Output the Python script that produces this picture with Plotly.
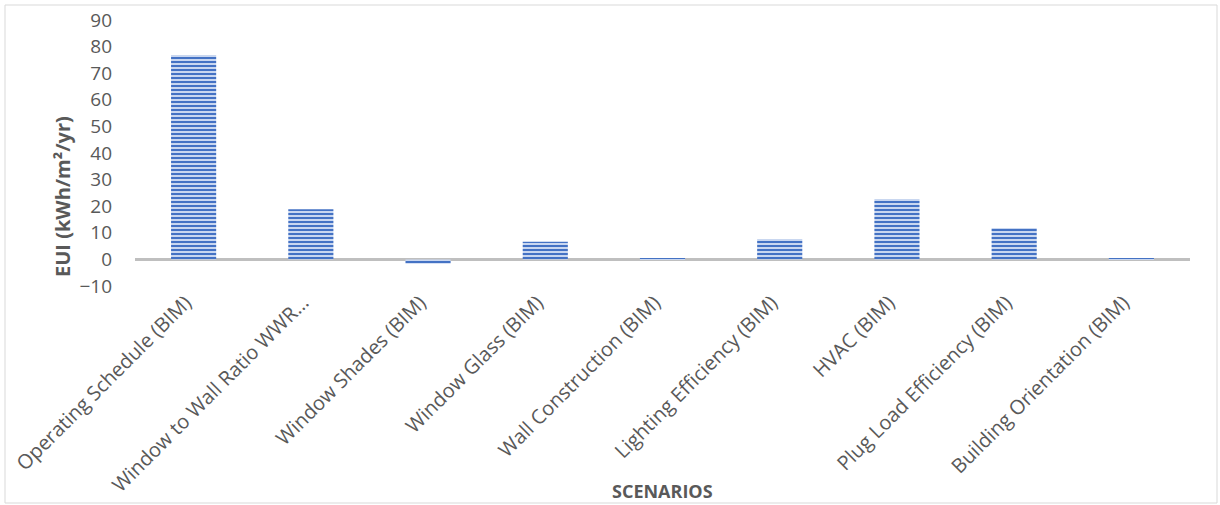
import plotly.graph_objects as go

categories = [
    "Operating Schedule (BIM)",
    "Window to Wall Ratio WWR…",
    "Window Shades (BIM)",
    "Window Glass (BIM)",
    "Wall Construction (BIM)",
    "Lighting Efficiency (BIM)",
    "HVAC (BIM)",
    "Plug Load Efficiency (BIM)",
    "Building Orientation (BIM)",
]
eui_values = [76.8, 18.9, -1.6, 6.6, 0.5, 7.7, 22.7, 11.8, 0.5]
y_ticks = [-10, 0, 10, 20, 30, 40, 50, 60, 70, 80, 90]

FONT = "Open Sans"
GRAY = "#595959"

fig = go.Figure(
    go.Bar(
        x=categories,
        y=eui_values,
        marker=dict(
            color="#C9D7F0",
            line=dict(width=0),
            pattern=dict(shape="-", fgcolor="#4472C4", bgcolor="#C9D7F0",
                         size=4, solidity=0.5, fillmode="replace"),
        ),
        showlegend=False,
    )
)

L, R, T, B = 135, 30, 20, 219
W, H = 1220, 505
pw, ph = W - L - R, H - T - B

def px_x(x):
    return (x - L) / pw

def px_y(y):
    return (T + ph - y) / ph

fig.update_layout(
    width=W, height=H,
    margin=dict(l=L, r=R, t=T, b=B, autoexpand=False),
    paper_bgcolor="white", plot_bgcolor="white",
    bargap=0.615,
    font=dict(family=FONT, color=GRAY),
    shapes=[dict(
        type="rect", xref="paper", yref="paper",
        x0=px_x(5), x1=px_x(W - 3),
        y0=px_y(H - 2), y1=px_y(5),
        line=dict(color="#D9D9D9", width=1), fillcolor="rgba(0,0,0,0)", layer="below",
    )],
    annotations=[
        dict(text="<b>SCENARIOS</b>", xref="paper", yref="paper",
             x=px_x(662), y=px_y(491), xanchor="center", yanchor="middle",
             showarrow=False, font=dict(size=18, family=FONT, color=GRAY)),
        dict(text="<b>EUI (kWh/m²/yr)</b>", xref="paper", yref="paper",
             x=px_x(62), y=px_y(197), xanchor="center", yanchor="middle",
             textangle=-90, showarrow=False,
             font=dict(size=20, family=FONT, color=GRAY)),
    ],
)
fig.update_xaxes(
    tickangle=-45, tickfont=dict(size=20, family=FONT, color=GRAY),
    showgrid=False, showline=False, zeroline=False, ticks="",
    ticklabelshift=-8,
    automargin=False,
)
fig.update_yaxes(
    range=[-10, 90], tickvals=y_ticks,
    tickfont=dict(size=19, family=FONT, color=GRAY),
    showgrid=False, showline=False,
    zeroline=True, zerolinecolor="#BFBFBF", zerolinewidth=3,
    ticklabelstandoff=22,
    automargin=False,
)

fig.write_html("out.html")
